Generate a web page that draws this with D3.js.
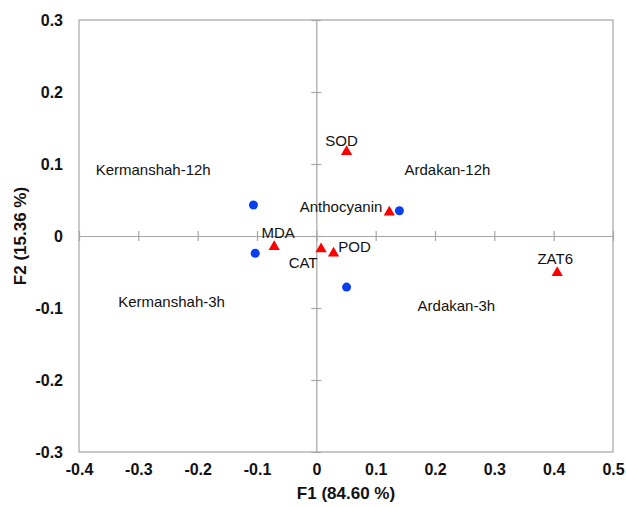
<!DOCTYPE html>
<html>
<head>
<meta charset="utf-8">
<script src="https://cdn.jsdelivr.net/npm/d3@7"></script>
<style>
  body { margin: 0; background: #fff; }
  svg { font-family: "Liberation Sans", Arial, sans-serif; }
</style>
</head>
<body>
<div id="chart"></div>
<script>
// observations (blue dots)
var obsX = [-0.106, -0.103, 0.140, 0.051];
var obsY = [0.043, -0.024, 0.035, -0.071];

// variables (red triangles)
var varNames = ["SOD", "Anthocyanin", "MDA", "CAT", "POD", "ZAT6"];
var varX = [0.051, 0.123, -0.071, 0.008, 0.029, 0.406];
var varY = [0.117, 0.033, -0.015, -0.018, -0.024, -0.051];

// group labels placed in the plane
var groupNames = ["Kermanshah-12h", "Ardakan-12h", "Kermanshah-3h", "Ardakan-3h"];
var groupX = [-0.275, 0.221, -0.244, 0.236];
var groupY = [0.092, 0.092, -0.092, -0.097];

var xTicks = [-0.4, -0.3, -0.2, -0.1, 0, 0.1, 0.2, 0.3, 0.4, 0.5];
var yTicks = [-0.3, -0.2, -0.1, 0, 0.1, 0.2, 0.3];

var margin = { top: 20, right: 13, bottom: 55, left: 79 },
    width = 626 - margin.left - margin.right,
    height = 507 - margin.top - margin.bottom;

var x = d3.scaleLinear().domain([-0.4, 0.5]).range([0, width]);
var y = d3.scaleLinear().domain([-0.3, 0.3]).range([height, 0]);

var svg = d3.select("#chart").append("svg")
    .attr("width", 626)
    .attr("height", 507)
    .append("g")
    .attr("transform", "translate(" + margin.left + "," + margin.top + ")");

// frame
svg.append("rect")
    .attr("x", 0).attr("y", 0)
    .attr("width", width).attr("height", height)
    .attr("fill", "none")
    .attr("stroke", "#a6a6a6")
    .attr("stroke-width", 1.2);

// zero lines with small tick crosses
var xZero = svg.append("g")
    .attr("transform", "translate(0," + y(0) + ")")
    .call(d3.axisBottom(x).tickValues(xTicks).tickSize(0).tickFormat(""));
xZero.selectAll(".tick line").attr("y1", -5).attr("y2", 5);

var yZero = svg.append("g")
    .attr("transform", "translate(" + x(0) + ",0)")
    .call(d3.axisLeft(y).tickValues(yTicks).tickSize(0).tickFormat(""));
yZero.selectAll(".tick line").attr("x1", -5).attr("x2", 5);

svg.selectAll(".domain").attr("stroke", "#a6a6a6").attr("stroke-width", 1.2);
svg.selectAll(".tick line").attr("stroke", "#a6a6a6").attr("stroke-width", 1.2);

// tick labels on the frame (plain hyphen for negatives)
var fmt = function (d) { return d === 0 ? "0" : d.toFixed(1); };

var xAxis = svg.append("g")
    .attr("transform", "translate(0," + height + ")")
    .call(d3.axisBottom(x).tickValues(xTicks).tickSize(0).tickPadding(12).tickFormat(fmt));
var yAxis = svg.append("g")
    .call(d3.axisLeft(y).tickValues(yTicks).tickSize(0).tickPadding(16).tickFormat(fmt));
xAxis.select(".domain").remove();
yAxis.select(".domain").remove();
svg.selectAll(".tick text")
    .attr("font-family", "Liberation Sans, Arial, sans-serif")
    .attr("font-size", "16px")
    .attr("font-weight", "700")
    .attr("fill", "#111");

// axis titles
svg.append("text")
    .attr("x", width / 2)
    .attr("y", height + 47)
    .style("text-anchor", "middle")
    .attr("font-size", "17px")
    .attr("font-weight", "700")
    .attr("fill", "#111")
    .text("F1 (84.60 %)");

svg.append("text")
    .attr("transform", "rotate(-90)")
    .attr("x", -y(0))
    .attr("y", -53)
    .style("text-anchor", "middle")
    .attr("font-size", "17px")
    .attr("font-weight", "700")
    .attr("fill", "#111")
    .text("F2 (15.36 %)");

// group labels
svg.selectAll(".group")
    .data(groupNames)
    .enter().append("text")
    .attr("class", "group")
    .attr("x", function (d, i) { return x(groupX[i]); })
    .attr("y", function (d, i) { return y(groupY[i]); })
    .attr("dy", "0.35em")
    .style("text-anchor", "middle")
    .attr("font-size", "15px")
    .attr("fill", "#111")
    .text(function (d) { return d; });

// observations
svg.selectAll(".obs")
    .data(obsX)
    .enter().append("circle")
    .attr("class", "obs")
    .attr("cx", function (d) { return x(d); })
    .attr("cy", function (d, i) { return y(obsY[i]); })
    .attr("r", 4.5)
    .attr("fill", "#0a3ff0");

// variables
var tri = d3.symbol().type(d3.symbolTriangle).size(55);
svg.selectAll(".var")
    .data(varNames)
    .enter().append("path")
    .attr("class", "var")
    .attr("transform", function (d, i) {
        return "translate(" + x(varX[i]) + "," + y(varY[i]) + ")";
    })
    .attr("d", tri)
    .attr("fill", "#ff0000");

// variable labels (offsets relative to the marker)
var labelDx = [-5, -7, 4, -18, 21, -2];
var labelDy = [-11, -5, -14, 14, -7, -14];
var labelAnchor = ["middle", "end", "middle", "middle", "middle", "middle"];
svg.selectAll(".vlab")
    .data(varNames)
    .enter().append("text")
    .attr("class", "vlab")
    .attr("x", function (d, i) { return x(varX[i]) + labelDx[i]; })
    .attr("y", function (d, i) { return y(varY[i]) + labelDy[i]; })
    .attr("dy", "0.35em")
    .style("text-anchor", function (d, i) { return labelAnchor[i]; })
    .attr("font-size", "15px")
    .attr("fill", "#111")
    .text(function (d) { return d; });
</script>
</body>
</html>
